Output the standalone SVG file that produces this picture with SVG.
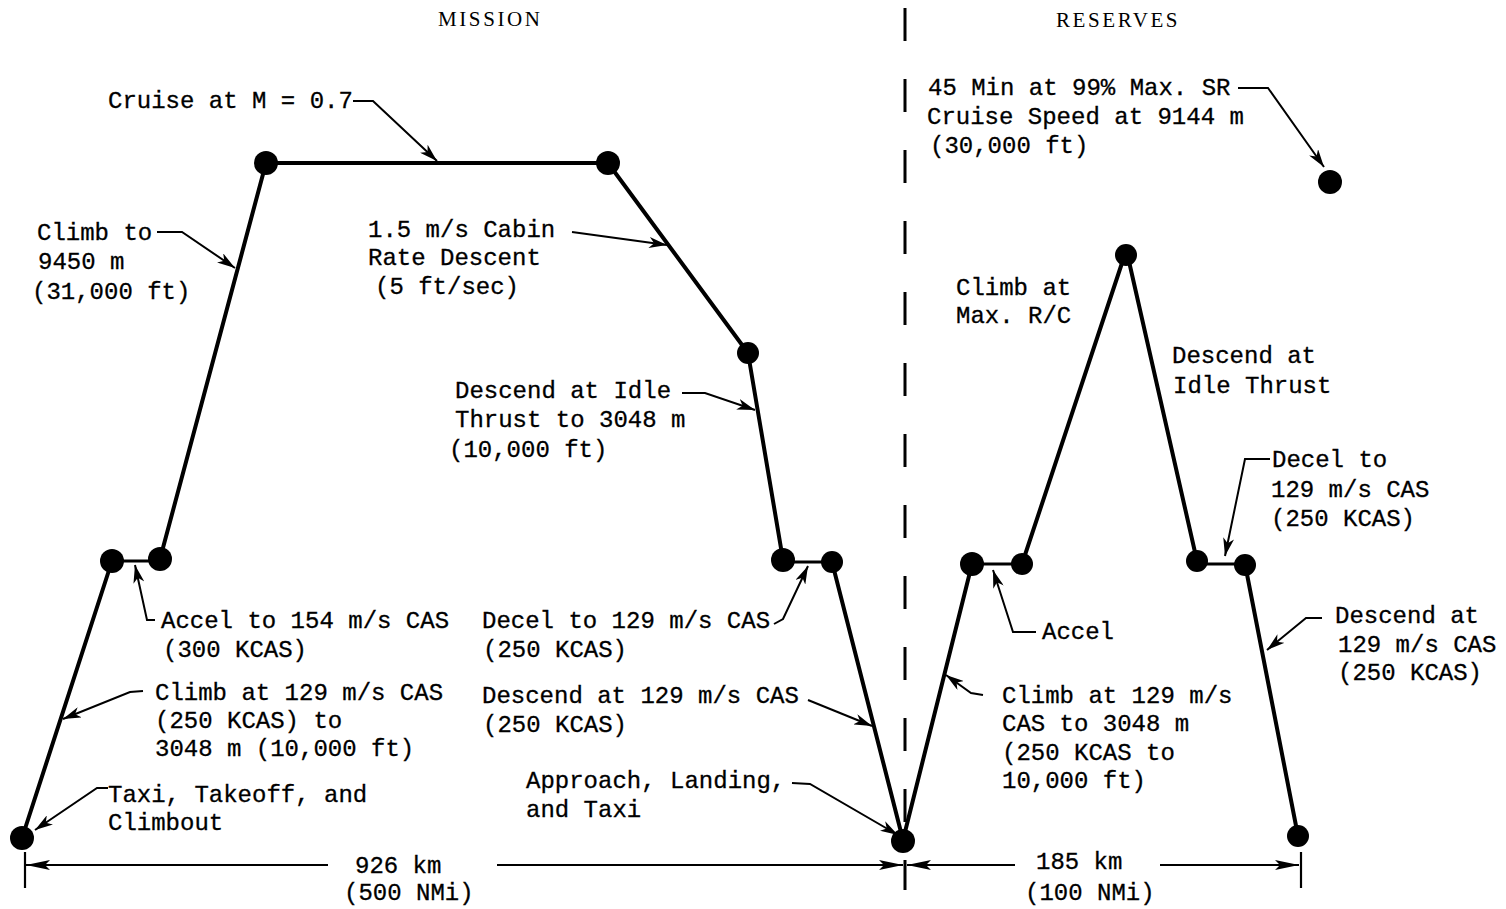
<svg xmlns="http://www.w3.org/2000/svg" width="1506" height="909" viewBox="0 0 1506 909">
<style>
.t{font-family:"Liberation Mono","Courier New",monospace;font-size:24px;fill:#000;stroke:#000;stroke-width:0.3}
.h{font-family:"Liberation Serif","Times New Roman",serif;font-size:21px;fill:#000;letter-spacing:2.6px}
.p{stroke:#000;stroke-width:4;fill:none;stroke-linecap:round}
.s{stroke:#000;stroke-width:3;fill:none}
.l{stroke:#000;stroke-width:2;fill:none}
.d{stroke:#000;stroke-width:2.2;fill:none}
.dot{fill:#000}
</style>
<defs>
<marker id="ah" viewBox="0 0 18 11" refX="18" refY="5.5" markerWidth="18" markerHeight="11" markerUnits="userSpaceOnUse" orient="auto"><path d="M0,0 L18,5.5 L0,11 L5,5.5 z" fill="#000"/></marker>
<marker id="dh" viewBox="0 0 24 10" refX="24" refY="5" markerWidth="24" markerHeight="10" markerUnits="userSpaceOnUse" orient="auto"><path d="M0,0 L24,5 L0,10 L5,5 z" fill="#000"/></marker>
</defs>
<rect width="1506" height="909" fill="#fff"/>

<g id="connectors">
<line class="p" x1="22" y1="838" x2="112" y2="561"/>
<line class="s" x1="112" y1="561" x2="160" y2="561"/>
<line class="p" x1="160" y1="559" x2="266" y2="163"/>
<line class="p" x1="266" y1="163" x2="608" y2="163"/>
<line class="p" x1="608" y1="163" x2="748" y2="353"/>
<line class="p" x1="748" y1="353" x2="783" y2="560"/>
<line class="s" x1="783" y1="562" x2="832" y2="562"/>
<line class="p" x1="832" y1="562" x2="903" y2="840"/>
<line class="p" x1="903" y1="840" x2="972" y2="564"/>
<line class="s" x1="972" y1="564" x2="1022" y2="564"/>
<line class="p" x1="1022" y1="564" x2="1124" y2="257"/>
<line class="p" x1="1128" y1="257" x2="1197" y2="561"/>
<line class="s" x1="1197" y1="564" x2="1245" y2="564"/>
<line class="p" x1="1245" y1="564" x2="1298" y2="836"/>
<line x1="905" y1="8" x2="905" y2="890" stroke="#000" stroke-width="3" stroke-dasharray="33 38"/>
<polyline class="l" points="353,101 373,101 437,161" marker-end="url(#ah)"/>
<polyline class="l" points="157,232 182,232 235,268" marker-end="url(#ah)"/>
<polyline class="l" points="572,232 667,245" marker-end="url(#ah)"/>
<polyline class="l" points="682,393 705,393 755,410" marker-end="url(#ah)"/>
<polyline class="l" points="155,620 147,620 135,565" marker-end="url(#ah)"/>
<polyline class="l" points="143,691 130,692 63,719" marker-end="url(#ah)"/>
<polyline class="l" points="108,788 97,788 35,830" marker-end="url(#ah)"/>
<polyline class="l" points="774,624 783,619 808,566" marker-end="url(#ah)"/>
<polyline class="l" points="808,700 872,726" marker-end="url(#ah)"/>
<polyline class="l" points="792,783 810,784 898,835" marker-end="url(#ah)"/>
<polyline class="l" points="1238,88 1268,88 1324,167" marker-end="url(#ah)"/>
<polyline class="l" points="1270,459 1245,459 1225,556" marker-end="url(#ah)"/>
<polyline class="l" points="1036,632 1013,632 993,570" marker-end="url(#ah)"/>
<polyline class="l" points="983,695 971,693 946,675" marker-end="url(#ah)"/>
<polyline class="l" points="1322,618 1306,618 1267,650" marker-end="url(#ah)"/>
<line class="d" x1="25" y1="852" x2="25" y2="888"/>
<line class="d" x1="328" y1="865" x2="26" y2="865" marker-end="url(#dh)"/>
<line class="d" x1="497" y1="865" x2="903" y2="865" marker-end="url(#dh)"/>
<line class="d" x1="1015" y1="865" x2="907" y2="865" marker-end="url(#dh)"/>
<line class="d" x1="1160" y1="865" x2="1299" y2="865" marker-end="url(#dh)"/>
<line class="d" x1="1301" y1="852" x2="1301" y2="888"/>
</g>

<g id="n-a"><circle class="dot" cx="22" cy="838" r="12"/></g>
<g id="n-b"><circle class="dot" cx="112" cy="561" r="12"/></g>
<g id="n-c"><circle class="dot" cx="160" cy="559" r="12"/></g>
<g id="n-d"><circle class="dot" cx="266" cy="163" r="12"/></g>
<g id="n-e"><circle class="dot" cx="608" cy="163" r="12"/></g>
<g id="n-f"><circle class="dot" cx="748" cy="353" r="11"/></g>
<g id="n-g"><circle class="dot" cx="783" cy="560" r="12"/></g>
<g id="n-h"><circle class="dot" cx="832" cy="562" r="11"/></g>
<g id="n-i"><circle class="dot" cx="903" cy="841" r="12"/></g>
<g id="n-j"><circle class="dot" cx="972" cy="564" r="12"/></g>
<g id="n-k"><circle class="dot" cx="1022" cy="564" r="11"/></g>
<g id="n-l"><circle class="dot" cx="1126" cy="255" r="11"/></g>
<g id="n-m"><circle class="dot" cx="1197" cy="561" r="11"/></g>
<g id="n-n"><circle class="dot" cx="1245" cy="565" r="11"/></g>
<g id="n-o"><circle class="dot" cx="1298" cy="836" r="11"/></g>
<g id="n-p"><circle class="dot" cx="1330" cy="182" r="12"/></g>

<g id="labels">
<text class="h" x="438" y="26">MISSION</text>
<text class="h" x="1056" y="27">RESERVES</text>
<text class="t" x="108" y="108">Cruise at M = 0.7</text>
<text class="t" x="37" y="240">Climb to</text>
<text class="t" x="38" y="269">9450 m</text>
<text class="t" x="32" y="299">(31,000 ft)</text>
<text class="t" x="368" y="237">1.5 m/s Cabin</text>
<text class="t" x="368" y="265">Rate Descent</text>
<text class="t" x="375" y="294">(5 ft/sec)</text>
<text class="t" x="455" y="398">Descend at Idle</text>
<text class="t" x="455" y="427">Thrust to 3048 m</text>
<text class="t" x="449" y="457">(10,000 ft)</text>
<text class="t" x="161" y="628">Accel to 154 m/s CAS</text>
<text class="t" x="163" y="657">(300 KCAS)</text>
<text class="t" x="155" y="700">Climb at 129 m/s CAS</text>
<text class="t" x="155" y="728">(250 KCAS) to</text>
<text class="t" x="155" y="756">3048 m (10,000 ft)</text>
<text class="t" x="108" y="802">Taxi, Takeoff, and</text>
<text class="t" x="108" y="830">Climbout</text>
<text class="t" x="482" y="628">Decel to 129 m/s CAS</text>
<text class="t" x="483" y="657">(250 KCAS)</text>
<text class="t" x="482" y="703">Descend at 129 m/s CAS</text>
<text class="t" x="483" y="732">(250 KCAS)</text>
<text class="t" x="526" y="788">Approach, Landing,</text>
<text class="t" x="526" y="817">and Taxi</text>
<text class="t" x="355" y="873">926 km</text>
<text class="t" x="344" y="900">(500 NMi)</text>
<text class="t" x="928" y="95">45 Min at 99% Max. SR</text>
<text class="t" x="927" y="124">Cruise Speed at 9144 m</text>
<text class="t" x="930" y="153">(30,000 ft)</text>
<text class="t" x="956" y="295">Climb at</text>
<text class="t" x="956" y="323">Max. R/C</text>
<text class="t" x="1172" y="363">Descend at</text>
<text class="t" x="1173" y="393">Idle Thrust</text>
<text class="t" x="1272" y="467">Decel to</text>
<text class="t" x="1271" y="497">129 m/s CAS</text>
<text class="t" x="1271" y="526">(250 KCAS)</text>
<text class="t" x="1042" y="639">Accel</text>
<text class="t" x="1002" y="703">Climb at 129 m/s</text>
<text class="t" x="1002" y="731">CAS to 3048 m</text>
<text class="t" x="1002" y="760">(250 KCAS to</text>
<text class="t" x="1002" y="788">10,000 ft)</text>
<text class="t" x="1335" y="623">Descend at</text>
<text class="t" x="1338" y="652">129 m/s CAS</text>
<text class="t" x="1338" y="680">(250 KCAS)</text>
<text class="t" x="1036" y="869">185 km</text>
<text class="t" x="1025" y="900">(100 NMi)</text>
</g>
</svg>
